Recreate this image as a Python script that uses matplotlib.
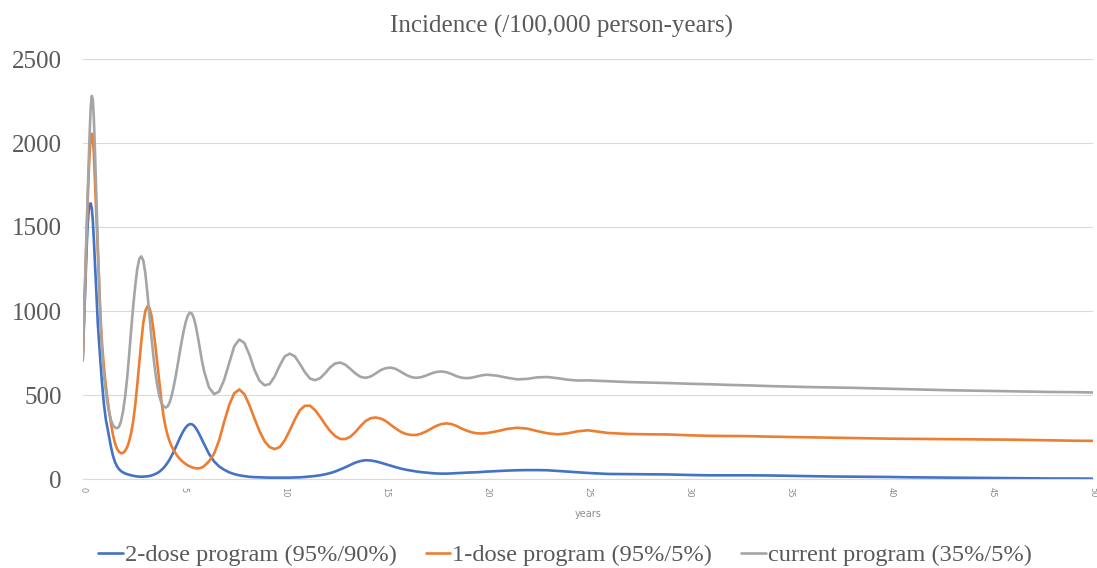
import matplotlib
matplotlib.use("Agg")
import matplotlib.pyplot as plt

years = [0, 0.05, 0.1, 0.15, 0.2, 0.25, 0.3, 0.35, 0.4, 0.45, 0.5, 0.55, 0.6, 0.65,
         0.7, 0.75, 0.8, 0.85, 0.9, 0.95, 1.0, 1.05, 1.1, 1.15,
         1.2, 1.3, 1.4, 1.5, 1.6, 1.7, 1.8, 1.9, 2.0,
         2.1, 2.2, 2.3, 2.4, 2.5, 2.6, 2.7, 2.8, 2.9, 3.0,
         3.1, 3.2, 3.3, 3.4, 3.5, 3.6, 3.7, 3.8, 3.9, 4.0,
         4.1, 4.2, 4.3, 4.4, 4.5, 4.6, 4.7, 4.8, 4.9, 5.0,
         5.1, 5.2, 5.3, 5.4, 5.5, 5.6, 5.7, 5.8, 5.9, 6.0,
         6.25, 6.5, 6.75,
         7.0, 7.25, 7.5, 7.75, 8.0, 8.25, 8.5, 8.75, 9.0, 9.25, 9.5, 9.75,
         10.0, 10.25, 10.5, 10.75, 11.0, 11.25, 11.5, 11.75, 12.0, 12.25, 12.5, 12.75,
         13.0, 13.25, 13.5, 13.75, 14.0, 14.25, 14.5, 14.75, 15.0, 15.25, 15.5, 15.75,
         16.0, 16.25, 16.5, 16.75, 17.0, 17.25, 17.5, 17.75, 18.0, 18.25, 18.5, 18.75,
         19.0, 19.25, 19.5, 19.75, 20.0,
         20.5, 21, 21.5, 22, 22.5, 23, 23.5, 24, 24.5, 25,
         26, 27, 28, 29, 30, 31, 32, 33, 34, 35, 36, 37, 38, 39, 40,
         41, 42, 43, 44, 45, 46, 47, 48, 49, 50]

current = [707, 900, 1110, 1310, 1510, 1710, 1900, 2080, 2220, 2280, 2260, 2150, 1980, 1780,
           1580, 1390, 1210, 1040, 890, 770, 680, 615, 565, 515,
           470, 400, 350, 320, 306, 302, 312, 345, 405,
           490, 600, 740, 890, 1030, 1150, 1250, 1310, 1325, 1300,
           1225, 1110, 975, 845, 730, 630, 550, 490, 452, 432,
           425, 432, 455, 495, 548, 610, 680, 750, 820, 882,
           935, 972, 990, 985, 958, 910, 845, 775, 705, 645,
           545, 505, 520,
           590, 690, 790, 830, 810, 740, 650, 585, 558, 565, 610, 675,
           730, 746, 730, 685, 635, 598, 588, 600, 630, 665, 688, 693,
           680, 655, 628, 608, 602, 610, 628, 648, 660, 663, 655, 638,
           620, 607, 602, 606, 616, 628, 637, 640, 636, 625, 612, 603,
           600, 603, 610, 617, 621,
           615, 603, 593, 596, 605, 607, 600, 591, 586, 587,
           582, 577, 574, 571, 567, 564, 560, 557, 553, 550, 547, 545, 543, 540, 537,
           534, 531, 528, 526, 524, 522, 520, 518, 517, 515]

one_dose = [707, 900, 1100, 1300, 1490, 1670, 1830, 1950, 2030, 2055, 2035, 1940, 1790, 1640,
            1490, 1340, 1190, 1050, 920, 820, 740, 670, 605, 550,
            500, 410, 330, 262, 212, 180, 162, 153, 156,
            168, 190, 225, 275, 345, 440, 560, 690, 820, 930,
            1000, 1027, 1020, 975, 890, 790, 680, 565, 460, 375,
            310, 262, 225, 195, 172, 152, 135, 120, 108, 98,
            89, 81, 75, 70, 66, 64, 63, 65, 69, 76,
            105, 150, 230,
            340, 440, 510, 533, 505, 440, 360, 285, 225, 190, 178, 190,
            230, 290, 355, 410, 436, 436, 410, 370, 325, 285, 255, 238,
            238, 252, 280, 315, 345, 362, 366, 360, 345, 322, 300, 280,
            268, 262, 262, 270, 283, 300, 316, 327, 331, 327, 316, 300,
            288, 278, 272, 271, 273,
            284, 298, 305, 300, 285, 272, 266, 272, 284, 290,
            274, 268, 266, 265, 260, 257, 256, 255, 252, 250, 248, 246, 244, 242, 240,
            239, 238, 237, 236, 235, 234, 232, 230, 228, 227]

two_dose = [707, 880, 1060, 1230, 1390, 1520, 1600, 1638, 1640, 1610, 1540, 1430, 1300, 1160,
            1030, 920, 830, 745, 660, 580, 510, 445, 395, 350,
            320, 255, 190, 138, 100, 75, 58, 47, 39,
            33, 29, 25, 22, 19, 17, 15, 14, 14, 14,
            15, 16, 18, 21, 25, 30, 36, 44, 54, 66,
            80, 97, 116, 138, 162, 188, 215, 242, 267, 289,
            307, 320, 327, 326, 318, 303, 283, 260, 235, 210,
            150, 105, 75,
            55, 40, 29, 22, 17, 13, 11, 10, 9, 8, 8, 8,
            8, 8, 9, 10, 12, 15, 18, 22, 28, 35, 45, 57,
            70, 84, 98, 107, 112, 110, 105, 97, 88, 79, 70, 62,
            55, 50, 45, 41, 38, 35, 33, 32, 32, 33, 35, 36,
            38, 39, 40, 42, 44,
            47, 50, 52, 53, 53, 52, 48, 44, 40, 36,
            30, 29, 28, 27, 24, 22, 22, 22, 21, 19, 17, 15, 14, 13, 12,
            10, 9, 8, 7, 6, 5, 4, 3, 3, 2]

labels = ["2-dose program (95%/90%)", "1-dose program (95%/5%)", "current program (35%/5%)"]
colors = ["#4472C4", "#ED7D31", "#A5A5A5"]
yticks = [0, 500, 1000, 1500, 2000, 2500]
xticks = [0, 5, 10, 15, 20, 25, 30, 35, 40, 45, 50]

serif = ["Liberation Serif", "DejaVu Serif"]

fig = plt.figure(figsize=(10.97, 5.68), dpi=100)
ax = fig.add_axes([82.7 / 1097, 89 / 568, (1093 - 82.7) / 1097, 420 / 568])

for series, lab, col in zip([two_dose, one_dose, current], labels, colors):
    ax.plot(years[:len(series)], series, color=col, lw=1.9, label=lab,
            solid_joinstyle="round", solid_capstyle="round")

ax.set_xlim(0, 50)
ax.set_ylim(0, 2500)
ax.set_yticks(yticks)
ax.set_xticks(xticks)
ax.set_yticklabels([str(v) for v in yticks], family=serif, fontsize=18, color="#595959")
ax.set_xticklabels([str(v) for v in xticks], rotation=-90, fontsize=6, color="#8c8c8c")
ax.tick_params(axis="both", length=0)
ax.tick_params(axis="y", pad=15)
ax.tick_params(axis="x", pad=6)
ax.grid(axis="y", color="#D9D9D9", lw=0.8)
ax.set_axisbelow(True)
for s in ["top", "right", "left"]:
    ax.spines[s].set_visible(False)
ax.spines["bottom"].set_color("#D9D9D9")
ax.spines["bottom"].set_linewidth(0.8)

ax.set_xlabel("years", fontsize=7, color="#8c8c8c", labelpad=8)

fig.text(562 / 1097, 1 - 26 / 568, "Incidence (/100,000 person-years)", family=serif,
         fontsize=18, color="#595959", ha="center", va="center")

leg = fig.legend(loc="center", bbox_to_anchor=(565 / 1097, 1 - 555 / 568), ncol=3,
                 frameon=False, prop={"family": serif, "size": 17.6},
                 handlelength=1.0, handletextpad=0.08, columnspacing=1.2, borderaxespad=0)
for t in leg.get_texts():
    t.set_color("#595959")

fig.savefig("out.png", dpi=100)
